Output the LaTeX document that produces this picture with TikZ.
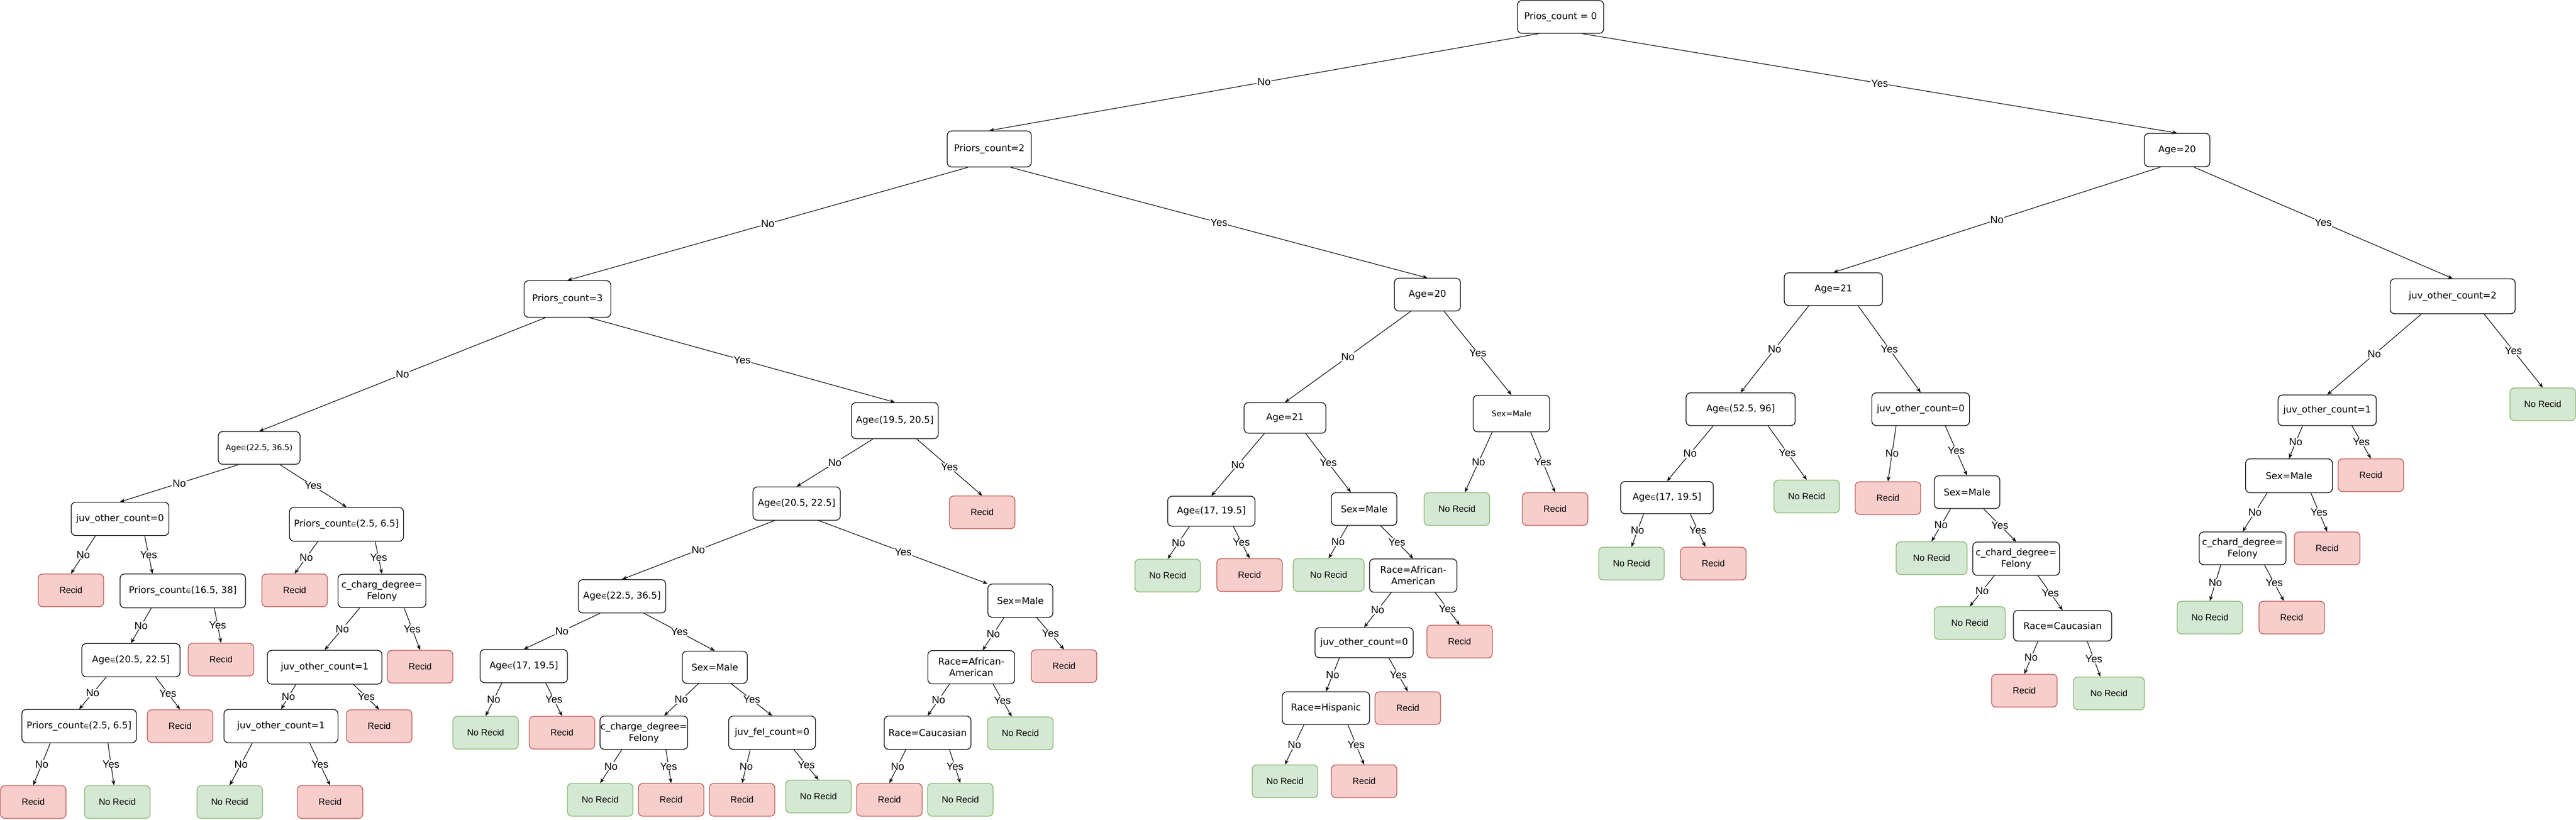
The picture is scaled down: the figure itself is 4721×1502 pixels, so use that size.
\documentclass[tikz,border=0pt]{standalone}
\usepackage{fontspec}
\usetikzlibrary{arrows.meta,calc}
\newfontfamily\dvfont{DejaVu Sans}
\newfontfamily\libfont{Liberation Sans}
\definecolor{recf}{HTML}{F8CECC}
\definecolor{recd}{HTML}{B85450}
\definecolor{nrecf}{HTML}{D5E8D4}
\definecolor{nrecd}{HTML}{82B366}
\newcommand\elm{{\fontsize{11}{11}\selectfont ∈}}
\newcommand\NoE[3][.5]{\draw[edge] ($(#2.south west)!.25!(#2.south east)$) -- node[lbl]{No} ($(#3.north west)!#1!(#3.north east)$);}
\newcommand\YesE[3][.5]{\draw[edge] ($(#2.south west)!.75!(#2.south east)$) -- node[lbl]{Yes} ($(#3.north west)!#1!(#3.north east)$);}
\tikzset{
  wh/.style 2 args={minimum width=#1pt, minimum height=#2pt},
  dec/.style={draw=black, line width=1.3pt, rounded corners=8pt, fill=white, align=center,
    font=\dvfont\fontsize{17}{21}\selectfont, inner xsep=1pt, inner ysep=2pt},
  smalltxt/.style={font=\dvfont\fontsize{14.5}{18}\selectfont},
  rec/.style={draw=recd, fill=recf, line width=1.3pt, rounded corners=8pt, wh={120}{60},
    font=\libfont\fontsize{16.5}{20}\selectfont},
  nrec/.style={draw=nrecd, fill=nrecf, line width=1.3pt, rounded corners=8pt, wh={120}{60},
    font=\libfont\fontsize{16.5}{20}\selectfont},
  edge/.style={line width=1.1pt, -{Stealth[length=9pt,width=7pt]}},
  lbl/.style={fill=white, inner sep=1pt, font=\libfont\fontsize{19}{22}\selectfont},
}
\begin{document}
\begin{tikzpicture}[x=1pt,y=-1pt]
\useasboundingbox (0,0) rectangle (4721,1502);
% level 0-2
\node[dec,wh={158}{60}] (root) at (2860,31) {Prios\_count = 0};
\node[dec,wh={154}{66}] (P2) at (1813,273) {Priors\_count=2};
\node[dec,wh={120}{61}] (C1) at (3990,275) {Age=20};
\node[dec,wh={159}{67}] (P3) at (1040,548) {Priors\_count=3};
\node[dec,wh={121}{60}] (B1) at (2616,540) {Age=20};
\node[dec,wh={180}{60}] (C2) at (3360,530) {Age=21};
\node[dec,wh={229}{64}] (D1) at (4495,543) {juv\_other\_count=2};
% level 3
\node[dec,smalltxt,wh={150}{60}] (A1) at (475,821) {Age\elm(22.5, 36.5)};
\node[dec,wh={159}{66}] (A3) at (1640,771) {Age\elm(19.5, 20.5]};
\node[dec,wh={150}{56}] (B2) at (2355,766) {Age=21};
\node[dec,smalltxt,wh={140}{67}] (B8) at (2770,758) {Sex=Male};
\node[dec,wh={200}{60}] (C3) at (3190,750) {Age\elm(52.5, 96]};
\node[dec,wh={179}{60}] (C5) at (3520,750) {juv\_other\_count=0};
\node[dec,wh={180}{56}] (D2) at (4265,752) {juv\_other\_count=1};
\node[nrec] (D1n) at (4660,741) {No Recid};
% level 4
\node[dec,wh={179}{61}] (J0) at (220,951) {juv\_other\_count=0};
\node[dec,wh={209}{62}] (PC25) at (635,961) {Priors\_count\elm(2.5, 6.5]};
\node[dec,wh={160}{61}] (A4) at (1460,923) {Age\elm(20.5, 22.5]};
\node[rec] (A3r) at (1800,939) {Recid};
\node[dec,wh={160}{55}] (B3) at (2220,937) {Age\elm(17, 19.5]};
\node[dec,wh={120}{60}] (B4) at (2500,933) {Sex=Male};
\node[nrec] (B8n) at (2670,933) {No Recid};
\node[rec] (B8r) at (2850,933) {Recid};
\node[dec,wh={170}{59}] (C4) at (3055,912) {Age\elm(17, 19.5]};
\node[nrec] (C3n) at (3311,910) {No Recid};
\node[rec] (C5r) at (3460,913) {Recid};
\node[dec,wh={120}{60}] (C6) at (3605,902) {Sex=Male};
\node[dec,wh={159}{62}] (D3) at (4195,872) {Sex=Male};
\node[rec] (D2r) at (4345,871) {Recid};
% level 5
\node[rec] (J0r) at (130,1082) {Recid};
\node[dec,wh={230}{62}] (PC16) at (335,1083) {Priors\_count\elm(16.5, 38]};
\node[rec] (PC25r) at (540,1082) {Recid};
\node[dec,wh={161}{61}] (CCD) at (700,1083) {c\_charg\_degree=\\Felony};
\node[dec,wh={160}{61}] (A5) at (1140,1093) {Age\elm(22.5, 36.5]};
\node[dec,wh={119}{61}] (S2) at (1870,1101) {Sex=Male};
\node[nrec] (B3n) at (2140,1055) {No Recid};
\node[rec] (B3r) at (2290,1054) {Recid};
\node[nrec,wh={130}{60}] (B4n) at (2435,1054) {No Recid};
\node[dec,wh={160}{61}] (B5) at (2590,1055) {Race=African-\\American};
\node[nrec] (C4n) at (2990,1033) {No Recid};
\node[rec] (C4r) at (3140,1033) {Recid};
\node[nrec,wh={130}{60}] (C6n) at (3540,1023) {No Recid};
\node[dec,wh={159}{61}] (C7) at (3695,1024) {c\_chard\_degree=\\Felony};
\node[dec,wh={159}{60}] (D4) at (4110,1005) {c\_chard\_degree=\\Felony};
\node[rec] (D3r) at (4265,1005) {Recid};
% level 6
\node[rec] (PC16r) at (405,1209) {Recid};
\node[dec,wh={180}{61}] (A2) at (240,1210) {Age\elm(20.5, 22.5]};
\node[dec,wh={210}{62}] (J1) at (595,1223) {juv\_other\_count=1};
\node[rec] (CCDr) at (770,1222) {Recid};
\node[dec,wh={160}{61}] (A6) at (960,1221) {Age\elm(17, 19.5]};
\node[dec,wh={119}{59}] (S1) at (1310,1223) {Sex=Male};
\node[dec,wh={159}{61}] (RA) at (1780,1223) {Race=African-\\American};
\node[rec] (S2r) at (1950,1221) {Recid};
\node[dec,wh={180}{55}] (B6) at (2500,1178) {juv\_other\_count=0};
\node[rec] (B5r) at (2675,1176) {Recid};
\node[nrec,wh={130}{60}] (C7n) at (3610,1142) {No Recid};
\node[dec,wh={180}{56}] (C8) at (3780,1147) {Race=Caucasian};
\node[nrec] (D4n) at (4050,1132) {No Recid};
\node[rec] (D4r) at (4200,1132) {Recid};
% level 7
\node[dec,wh={210}{61}] (PC25a) at (145,1331) {Priors\_count\elm(2.5, 6.5]};
\node[rec] (A2r) at (330,1331) {Recid};
\node[dec,wh={209}{61}] (J1b) at (515,1331) {juv\_other\_count=1};
\node[rec] (J1r) at (695,1331) {Recid};
\node[nrec] (A6n) at (890,1343) {No Recid};
\node[rec] (A6r) at (1030,1343) {Recid};
\node[dec,wh={160}{61}] (CC2) at (1180,1343) {c\_charge\_degree=\\Felony};
\node[dec,wh={159}{61}] (JF) at (1415,1343) {juv\_fel\_count=0};
\node[dec,wh={159}{61}] (RC) at (1700,1343) {Race=Caucasian};
\node[nrec] (RAn) at (1870,1344) {No Recid};
\node[dec,wh={160}{60}] (B7) at (2430,1298) {Race=Hispanic};
\node[rec] (B6r) at (2580,1298) {Recid};
\node[rec] (C8r) at (3710,1266) {Recid};
\node[nrec,wh={130}{60}] (C8n) at (3865,1271) {No Recid};
% level 8
\node[rec] (PC25ar) at (61,1470) {Recid};
\node[nrec] (PC25an) at (215,1470) {No Recid};
\node[nrec] (J1bn) at (421,1470) {No Recid};
\node[rec] (J1br) at (605,1470) {Recid};
\node[nrec] (CC2n) at (1100,1466) {No Recid};
\node[rec] (CC2r) at (1230,1466) {Recid};
\node[rec] (JFr) at (1360,1466) {Recid};
\node[nrec] (JFn) at (1500,1460) {No Recid};
\node[rec] (RCr) at (1630,1466) {Recid};
\node[nrec] (RCn) at (1760,1466) {No Recid};
\node[nrec] (B7n) at (2355,1432) {No Recid};
\node[rec] (B7r) at (2500,1432) {Recid};
% edges
\NoE{root}{P2} \YesE{root}{C1}
\NoE{P2}{P3} \YesE{P2}{B1}
\NoE{C1}{C2} \YesE{C1}{D1}
\NoE{P3}{A1} \YesE{P3}{A3}
\NoE{B1}{B2} \YesE{B1}{B8}
\NoE{C2}{C3} \YesE{C2}{C5}
\NoE{D1}{D2} \YesE{D1}{D1n}
\NoE{A1}{J0} \YesE{A1}{PC25}
\NoE{A3}{A4} \YesE{A3}{A3r}
\NoE{B2}{B3} \YesE[.3]{B2}{B4}
\NoE[.62]{B8}{B8n} \YesE{B8}{B8r}
\NoE{C3}{C4} \YesE{C3}{C3n}
\NoE{C5}{C5r} \YesE{C5}{C6}
\NoE{D2}{D3} \YesE{D2}{D2r}
\NoE{J0}{J0r} \YesE[.26]{J0}{PC16}
\NoE{PC25}{PC25r} \YesE{PC25}{CCD}
\NoE{A4}{A5} \YesE[0]{A4}{S2}
\NoE{B3}{B3n} \YesE{B3}{B3r}
\NoE{B4}{B4n} \YesE{B4}{B5}
\NoE{C4}{C4n} \YesE[.38]{C4}{C4r}
\NoE{C6}{C6n} \YesE{C6}{C7}
\NoE{D3}{D4} \YesE{D3}{D3r}
\NoE{PC16}{A2} \YesE{PC16}{PC16r}
\NoE{CCD}{J1} \YesE{CCD}{CCDr}
\NoE{A5}{A6} \YesE{A5}{S1}
\NoE[.63]{S2}{RA} \YesE{S2}{S2r}
\NoE{B5}{B6} \YesE{B5}{B5r}
\NoE{C7}{C7n} \YesE{C7}{C8}
\NoE{D4}{D4n} \YesE[.38]{D4}{D4r}
\NoE{A2}{PC25a} \YesE{A2}{A2r}
\NoE{J1}{J1b} \YesE{J1}{J1r}
\NoE{A6}{A6n} \YesE{A6}{A6r}
\NoE[.73]{S1}{CC2} \YesE{S1}{JF}
\NoE{RA}{RC} \YesE[.37]{RA}{RAn}
\NoE{B6}{B7} \YesE{B6}{B6r}
\NoE{C8}{C8r} \YesE[.38]{C8}{C8n}
\NoE{PC25a}{PC25ar} \YesE[.45]{PC25a}{PC25an}
\NoE{J1b}{J1bn} \YesE{J1b}{J1br}
\NoE{CC2}{CC2n} \YesE{CC2}{CC2r}
\NoE{JF}{JFr} \YesE{JF}{JFn}
\NoE{RC}{RCr} \YesE{RC}{RCn}
\NoE{B7}{B7n} \YesE{B7}{B7r}
\end{tikzpicture}
\end{document}
